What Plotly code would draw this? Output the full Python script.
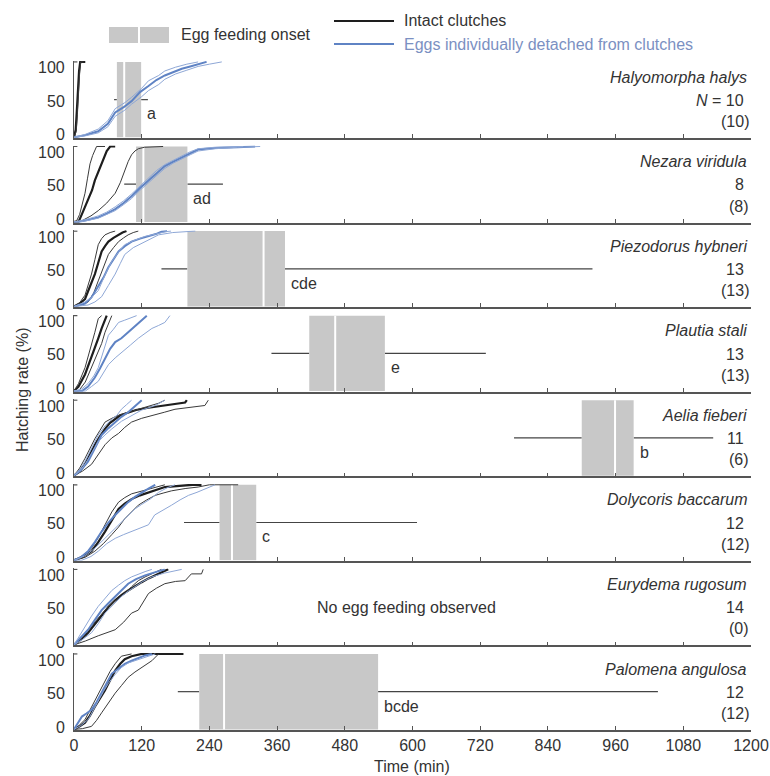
import plotly.graph_objects as go
from plotly.subplots import make_subplots

# ---------------- data ----------------
species = ["Halyomorpha halys", "Nezara viridula", "Piezodorus hybneri", "Plautia stali",
           "Aelia fieberi", "Dolycoris baccarum", "Eurydema rugosum", "Palomena angulosa"]
n_total = [10, 8, 13, 13, 11, 12, 14, 12]
n_fed = [10, 8, 13, 13, 6, 12, 0, 12]

# egg feeding onset (min): whisker low, Q1, median, Q3, whisker high (None = no feeding)
onset_lo = [71, 89, 155, 350, 780, 195, None, 184]
onset_q1 = [76, 110, 201, 417, 900, 258, None, 222]
onset_med = [89, 123, 336, 463, 959, 280, None, 266]
onset_q3 = [119, 201, 374, 551, 992, 323, None, 539]
onset_hi = [131, 264, 919, 730, 1133, 608, None, 1035]
onset_letters = ["a", "ad", "cde", "e", "b", "c", None, "bcde"]

x_ticks = [0, 120, 240, 360, 480, 600, 720, 840, 960, 1080, 1200]
y_ticks = [0, 50, 100]

# hatching curves: (time min, hatching %); first curve in each list is the bold one
hh_intact = [
    ([0, 3, 5, 7, 9, 11, 20], [0, 10, 35, 65, 88, 100, 100]),
    ([0, 4, 6, 8, 10, 12, 17], [0, 8, 30, 60, 85, 100, 100]),
]
hh_detached = [
    ([0, 20, 43, 60, 73, 88, 102, 117, 132, 146, 161, 176, 191, 206, 220, 235],
     [0, 3, 8, 18, 33, 40, 48, 60, 68, 76, 82, 87, 91, 94, 97, 100]),
    ([0, 20, 43, 60, 73, 90, 102, 120, 132, 150, 161, 180, 200, 220],
     [0, 4, 11, 22, 38, 46, 53, 65, 75, 82, 88, 93, 97, 100]),
    ([0, 20, 43, 60, 73, 90, 102, 120, 132, 150, 161, 180, 200, 220, 240, 262],
     [0, 2, 6, 14, 28, 36, 44, 54, 62, 70, 77, 84, 89, 94, 97, 100]),
]
nv_intact = [
    ([0, 8, 15, 25, 32, 37, 43, 49, 54, 58, 64, 73], [0, 0, 12, 30, 42, 55, 66, 77, 86, 94, 100, 100]),
    ([0, 5, 10, 15, 19.5, 24, 28.4, 33, 37, 40, 55], [0, 2, 10, 25, 38, 58, 77, 88, 96, 100, 100]),
    ([0, 15, 30, 43, 58, 73, 82, 90, 96, 102, 108, 114, 125, 158],
     [0, 2, 8, 15, 25, 38, 52, 68, 80, 89, 94, 97, 99, 100]),
]
nv_detached = [
    ([0, 8, 25, 43, 58, 73, 88, 102, 117, 132, 146, 161, 176, 191, 206, 220, 250, 290, 321],
     [0, 0, 3, 6, 11, 17, 25, 34, 45, 55, 65, 74, 80, 85, 91, 96, 98, 99, 100]),
    ([0, 8, 25, 43, 58, 73, 88, 102, 117, 132, 146, 161, 176, 191, 206, 220, 250, 300],
     [0, 1, 4, 8, 13, 20, 28, 37, 48, 58, 68, 76, 82, 88, 93, 97, 99, 100]),
    ([0, 10, 25, 43, 58, 73, 88, 102, 117, 132, 146, 161, 176, 191, 206, 220, 250, 290, 330],
     [0, 0, 2, 5, 10, 15, 23, 31, 42, 52, 62, 71, 78, 84, 89, 94, 97, 99, 100]),
]
ph_intact = [
    ([0, 10, 19.5, 28, 37, 43, 49, 55, 61, 70, 79, 86, 93], [0, 4, 10, 25, 43, 58, 73, 80, 86, 91, 95, 98, 100]),
    ([0, 10, 19.5, 25, 31, 37, 43, 49, 55, 64, 73], [0, 5, 15, 28, 43, 62, 82, 90, 95, 98, 100]),
    ([0, 13, 25, 35, 43, 52, 61, 70, 79, 88, 96, 105, 114], [0, 2, 6, 18, 34, 52, 69, 78, 86, 91, 95, 98, 100]),
]
ph_detached = [
    ([0, 10, 19.5, 31, 43, 52, 61, 70, 79, 90, 102, 117, 132, 145, 155, 165],
     [0, 2, 4, 12, 26, 38, 52, 63, 73, 80, 86, 90, 93, 96, 99, 100]),
    ([0, 13, 25, 37, 49, 61, 73, 82, 90, 105, 120, 135, 150, 175, 200, 215],
     [0, 1, 2, 6, 13, 28, 43, 57, 69, 78, 84, 90, 95, 98, 99, 100]),
    ([0, 10, 19.5, 31, 43, 55, 67, 79, 90, 108, 126, 145, 161, 172],
     [0, 3, 6, 12, 21, 42, 60, 72, 82, 88, 93, 96, 99, 100]),
]
ps_intact = [
    ([0, 8, 19.5, 25, 31, 37, 43, 49, 55, 58], [0, 6, 22, 33, 44, 57, 70, 83, 96, 100]),
    ([0, 8, 19.5, 25, 31, 37, 43, 49], [0, 10, 31, 45, 61, 78, 96, 100]),
    ([0, 8, 20, 31, 37, 43, 49, 55, 61, 67], [0, 0, 12, 31, 41, 52, 63, 78, 90, 100]),
]
ps_detached = [
    ([0, 14, 25, 37, 46, 55, 64, 73, 84, 96, 105, 114, 121, 129], [0, 0, 6, 18, 30, 44, 56, 65, 70, 78, 84, 91, 95, 100]),
    ([0, 14, 25, 35, 43, 52, 61, 70, 79, 90, 100, 111], [0, 3, 10, 20, 31, 52, 74, 82, 91, 94, 97, 100]),
    ([0, 20, 31, 43, 52, 61, 73, 85, 100, 114, 126, 138, 150, 161, 170],
     [0, 0, 6, 13, 24, 35, 44, 52, 61, 70, 76, 83, 87, 91, 100]),
]
af_intact = [
    ([0, 10, 19.5, 28, 37, 46, 55, 64, 73, 82, 90, 110, 132, 150, 161, 180, 197, 200],
     [0, 6, 15, 28, 41, 52, 62, 70, 75, 80, 82, 87, 90, 92, 93, 95, 97, 100]),
    ([0, 15, 31, 43, 55, 67, 79, 90, 102, 120, 138, 160, 179, 200, 232, 238],
     [0, 6, 15, 28, 41, 50, 56, 64, 71, 76, 80, 84, 88, 90, 93, 100]),
    ([0, 10, 19.5, 28, 37, 46, 55, 67, 79, 96, 114, 125, 138, 150, 161],
     [0, 10, 23, 36, 49, 60, 71, 76, 80, 84, 88, 90, 93, 96, 100]),
]
af_detached = [
    ([0, 12, 25, 37, 49, 61, 73, 84, 96, 108, 120], [0, 7, 19, 36, 54, 63, 71, 78, 84, 92, 100]),
    ([0, 10, 19.5, 31, 43, 55, 67, 76, 84, 93, 102], [0, 8, 19, 36, 54, 66, 75, 80, 88, 94, 100]),
    ([0, 10, 19.5, 31, 43, 55, 67, 84, 102, 120, 144, 161], [0, 6, 15, 30, 45, 54, 62, 72, 80, 87, 93, 100]),
]
db_intact = [
    ([0, 15, 31, 43, 55, 67, 79, 90, 102, 117, 132, 146, 161, 176, 191, 210, 226],
     [0, 4, 12, 24, 38, 53, 68, 75, 81, 86, 90, 93, 97, 98, 99, 100, 100]),
    ([0, 15, 31, 43, 55, 67, 79, 90, 102, 117, 132, 146, 161], [0, 6, 16, 30, 47, 64, 77, 83, 88, 91, 94, 97, 100]),
    ([0, 20, 37, 52, 67, 79, 90, 102, 114, 129, 144, 158, 173, 197, 220, 240, 291],
     [0, 4, 12, 22, 34, 44, 55, 64, 73, 80, 86, 89, 92, 95, 97, 100, 100]),
]
db_detached = [
    ([0, 12, 25, 37, 49, 61, 73, 85, 96, 108, 120, 132, 144], [0, 4, 12, 24, 38, 50, 60, 69, 77, 84, 90, 95, 100]),
    ([0, 14, 30, 43, 58, 73, 88, 102, 117, 132, 143, 158, 173, 188, 203, 218, 232, 250],
     [0, 0, 5, 12, 22, 29, 34, 38, 42, 47, 60, 66, 73, 80, 86, 90, 94, 100]),
    ([0, 20, 37, 49, 61, 73, 85, 96, 108, 120, 135, 150, 165, 179], [0, 6, 16, 25, 34, 43, 51, 60, 68, 74, 81, 90, 96, 100]),
]
er_intact = [
    ([0, 12, 25, 37, 49, 61, 73, 84, 96, 108, 120, 132, 144, 155, 167],
     [0, 7, 16, 27, 38, 50, 59, 66, 72, 78, 83, 88, 92, 96, 100]),
    ([0, 20, 43, 58, 73, 88, 102, 114, 123, 132, 146, 161, 180, 197, 208, 226, 229],
     [0, 5, 12, 16, 20, 30, 42, 46, 57, 68, 75, 81, 84, 85, 94, 94, 100]),
    ([0, 15, 31, 46, 61, 76, 90, 102, 114, 126, 138, 155], [0, 10, 25, 38, 51, 60, 68, 77, 85, 90, 94, 100]),
]
er_detached = [
    ([0, 12, 25, 37, 49, 61, 73, 84, 96, 110, 126, 143, 161], [0, 9, 20, 33, 46, 55, 64, 72, 81, 87, 92, 96, 100]),
    ([0, 10, 19.5, 31, 43, 55, 67, 79, 90, 102, 114, 126, 138], [0, 12, 25, 38, 51, 62, 72, 79, 85, 90, 94, 97, 100]),
    ([0, 15, 31, 43, 55, 70, 84, 96, 108, 122, 138, 160, 191], [0, 7, 16, 28, 42, 53, 64, 71, 77, 84, 90, 95, 100]),
]
pa_intact = [
    ([0, 10, 19.5, 28, 37, 46, 55, 64, 73, 82, 90, 102, 120, 173, 175, 194],
     [0, 4, 9, 18, 30, 41, 52, 65, 78, 87, 93, 97, 100, 100, 100, 100]),
    ([0, 10, 19.5, 28, 37, 46, 55, 64, 73, 84, 102], [0, 6, 13, 25, 39, 52, 65, 77, 87, 97, 100]),
    ([0, 15, 31, 40, 49, 61, 73, 84, 96, 108, 120, 130, 138, 150], [0, 1, 4, 12, 22, 35, 48, 58, 69, 76, 82, 87, 91, 100]),
]
pa_detached = [
    ([0, 7, 14, 22, 31, 40, 49, 58, 67, 78, 90, 102, 114, 126, 138], [0, 8, 17, 21, 26, 36, 48, 61, 74, 80, 87, 91, 95, 98, 100]),
    ([0, 12, 25, 34, 43, 52, 61, 72, 84, 96, 108, 120, 132, 144], [0, 5, 13, 26, 39, 50, 61, 72, 82, 88, 91, 94, 97, 100]),
]

intact_curves = [hh_intact, nv_intact, ph_intact, ps_intact, af_intact, db_intact, er_intact, pa_intact]
detached_curves = [hh_detached, nv_detached, ph_detached, ps_detached, af_detached, db_detached, er_detached, pa_detached]

# ---------------- styling ----------------
FONT = "Liberation Sans, Arial, sans-serif"
TXT = "#333333"
AXC = "#555555"
BOXC = "#c8c8c8"
BLK_THICK, BLK_THIN = "#1e1e1e", "#3a3a3a"
BLU_THICK, BLU_THIN = "#5f83c4", "#8ea7d6"
LEG_BLUE = "#7b90c2"

W, H = 770, 776
L, R, T, B = 74, 19, 61, 46
PW, PH = W - L - R, H - T - B


def px_to_paper_x(px):
    return (px - L) / PW


def px_to_paper_y(py):
    return (H - B - py) / PH


def font16(color=TXT):
    return dict(size=16, color=color, family=FONT)


PANEL_H = 77.0
n = len(species)
fig = make_subplots(rows=n, cols=1, vertical_spacing=7.6 / PH)

# y tick label positions inside each panel (fraction of panel height), as in reference
ytick_pos = {0: 3 / PANEL_H, 50: 0.48, 100: 1 - 7 / PANEL_H}

for i in range(n):
    r = i + 1
    for k, (t, y) in enumerate(intact_curves[i]):
        fig.add_trace(go.Scatter(x=t, y=y, mode="lines", showlegend=False, hoverinfo="skip",
                                 line=dict(color=BLK_THICK if k == 0 else BLK_THIN, width=2.2 if k == 0 else 1)),
                      row=r, col=1)
    for k, (t, y) in enumerate(detached_curves[i]):
        fig.add_trace(go.Scatter(x=t, y=y, mode="lines", showlegend=False, hoverinfo="skip",
                                 line=dict(color=BLU_THICK if k == 0 else BLU_THIN, width=2 if k == 0 else 1)),
                      row=r, col=1)

    xa = "x" if r == 1 else f"x{r}"
    ya = "y" if r == 1 else f"y{r}"

    # top tick of y-axis bracket
    fig.add_shape(type="line", xref=xa, yref=ya, x0=0, x1=6, y0=100, y1=100,
                  line=dict(color=AXC, width=1.2))

    for v in y_ticks:
        fig.add_annotation(xref="paper", yref=f"{ya} domain", x=px_to_paper_x(67), y=ytick_pos[v],
                           text=str(v), showarrow=False, xanchor="right", yanchor="middle",
                           font=font16())

    if onset_q1[i] is not None:
        fig.add_shape(type="line", xref=xa, yref=ya, x0=onset_lo[i], x1=onset_q1[i], y0=50, y1=50,
                      line=dict(color="#444444", width=1.2), layer="below")
        fig.add_shape(type="line", xref=xa, yref=ya, x0=onset_q3[i], x1=onset_hi[i], y0=50, y1=50,
                      line=dict(color="#444444", width=1.2), layer="below")
        fig.add_shape(type="rect", xref=xa, yref=ya, x0=onset_q1[i], x1=onset_q3[i], y0=0, y1=100,
                      fillcolor=BOXC, line=dict(width=0), layer="below")
        fig.add_shape(type="line", xref=xa, yref=ya, x0=onset_med[i], x1=onset_med[i], y0=0, y1=100,
                      line=dict(color="white", width=2), layer="below")
        fig.add_annotation(xref=xa, yref=ya, x=onset_q3[i], y=31, text=onset_letters[i], showarrow=False,
                           xanchor="left", yanchor="middle", xshift=4, font=font16())
    else:
        fig.add_annotation(xref=xa, yref=ya, x=590, y=50, text="No egg feeding observed", showarrow=False,
                           xanchor="center", yanchor="middle", font=font16())

    fig.add_annotation(xref=xa, yref=ya, x=1197, y=80, text=f"<i>{species[i]}</i>", showarrow=False,
                       xanchor="right", yanchor="middle", font=font16())
    ntxt = f"<i>N</i> = {n_total[i]}" if i == 0 else f"{n_total[i]}"
    fig.add_annotation(xref=xa, yref=ya, x=1191, y=49, text=ntxt, showarrow=False,
                       xanchor="right", yanchor="middle", font=font16())
    fig.add_annotation(xref=xa, yref=ya, x=1200, y=21, text=f"({n_fed[i]})", showarrow=False,
                       xanchor="right", yanchor="middle", font=font16())

    fig.update_xaxes(row=r, col=1, range=[0, 1200], tickvals=x_ticks, ticks="inside", ticklen=4,
                     tickcolor=AXC, showline=True, linecolor=AXC, linewidth=1.5, showgrid=False,
                     zeroline=False, showticklabels=(r == n), automargin=False,
                     tickfont=font16())
    fig.update_yaxes(row=r, col=1, range=[-0.8, 101.2], tickvals=y_ticks, ticks="", showline=True,
                     linecolor=AXC, linewidth=1.2, showgrid=False, zeroline=False, showticklabels=False,
                     automargin=False)

# legend (drawn manually)
lx0, lx1, lxm = px_to_paper_x(109), px_to_paper_x(169), px_to_paper_x(139)
ly0, ly1 = px_to_paper_y(43), px_to_paper_y(27)
fig.add_shape(type="rect", xref="paper", yref="paper", x0=lx0, x1=lx1, y0=ly0, y1=ly1,
              fillcolor=BOXC, line=dict(width=0))
fig.add_shape(type="line", xref="paper", yref="paper", x0=lxm, x1=lxm, y0=ly0, y1=ly1,
              line=dict(color="white", width=2))
fig.add_annotation(xref="paper", yref="paper", x=px_to_paper_x(179), y=px_to_paper_y(35),
                   text="Egg feeding onset", showarrow=False, xanchor="left", yanchor="middle",
                   font=font16())
fig.add_shape(type="line", xref="paper", yref="paper", x0=px_to_paper_x(334), x1=px_to_paper_x(394),
              y0=px_to_paper_y(21), y1=px_to_paper_y(21), line=dict(color=BLK_THICK, width=2))
fig.add_annotation(xref="paper", yref="paper", x=px_to_paper_x(402), y=px_to_paper_y(21),
                   text="Intact clutches", showarrow=False, xanchor="left", yanchor="middle",
                   font=font16())
fig.add_shape(type="line", xref="paper", yref="paper", x0=px_to_paper_x(334), x1=px_to_paper_x(394),
              y0=px_to_paper_y(44), y1=px_to_paper_y(44), line=dict(color=BLU_THICK, width=2))
fig.add_annotation(xref="paper", yref="paper", x=px_to_paper_x(402), y=px_to_paper_y(44),
                   text="Eggs individually detached from clutches", showarrow=False, xanchor="left",
                   yanchor="middle", font=font16(LEG_BLUE))

# axis titles
fig.add_annotation(xref="paper", yref="paper", x=px_to_paper_x(22), y=px_to_paper_y(390),
                   text="Hatching rate (%)", textangle=-90, showarrow=False,
                   xanchor="center", yanchor="middle", font=font16())
fig.add_annotation(xref="paper", yref="paper", x=px_to_paper_x(412), y=px_to_paper_y(766),
                   text="Time (min)", showarrow=False, xanchor="center", yanchor="middle",
                   font=font16())

fig.update_layout(width=W, height=H, margin=dict(l=L, r=R, t=T, b=B, autoexpand=False),
                  plot_bgcolor="white", paper_bgcolor="white", showlegend=False,
                  font=dict(family=FONT, size=16, color=TXT))

# remove the default page margin so the 770x776 figure fills the window exactly
fig.write_html("out.html", config={"displayModeBar": False},
               post_script="document.body.style.margin='0';document.body.style.overflow='hidden';")
